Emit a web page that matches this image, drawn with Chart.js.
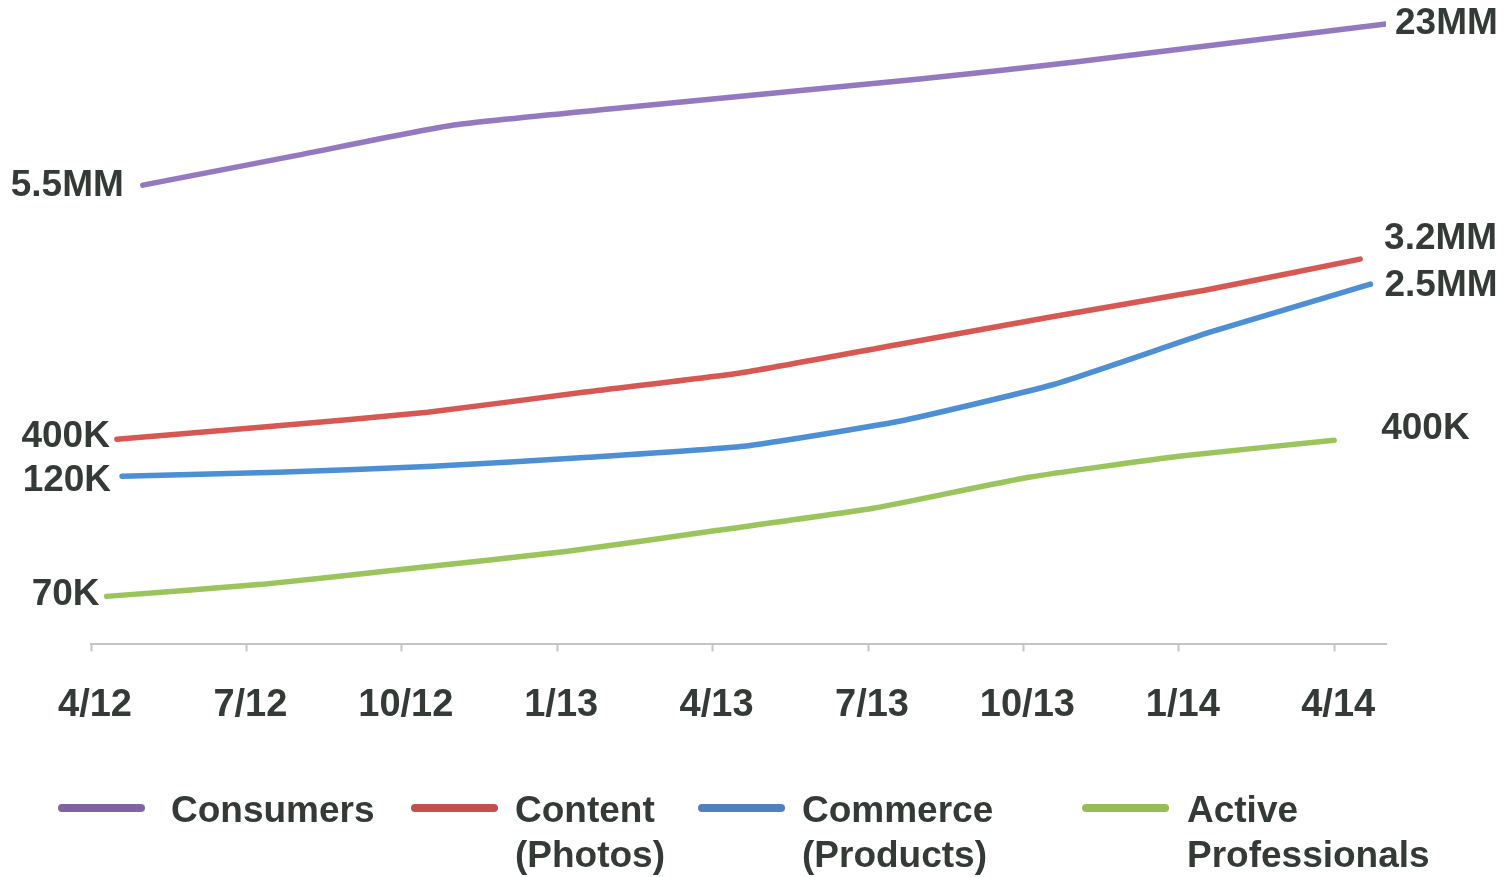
<!DOCTYPE html>
<html>
<head>
<meta charset="utf-8">
<style>
    body { margin: 0; background: #fff; }
    canvas { display: block; }
</style>
</head>
<body>
<canvas id="chart" width="1511" height="877"></canvas>

<script src="https://cdn.jsdelivr.net/npm/chart.js"></script>
<script type="text/javascript">
    // x = months after 4/12, y = relative height of the line (chart is not to scale)
    const tickMonths = [0, 3, 6, 9, 12, 15, 18, 21, 24];
    const tickLabels = ['4/12', '7/12', '10/12', '1/13', '4/13', '7/13', '10/13', '1/14', '4/14'];

    const seriesNames = ['Consumers', 'Content (Photos)', 'Commerce (Products)', 'Active Professionals'];
    const legendLines = [['Consumers'], ['Content', '(Photos)'], ['Commerce', '(Products)'], ['Active', 'Professionals']];

    const consumersMonths = [1, 4, 7, 10, 13, 16, 19, 22, 25];
    const consumersValues = [459, 489, 519, 535, 550, 565, 582, 601, 620];

    const contentMonths = [0.5, 3.5, 6.5, 9.5, 12.5, 15.5, 18.5, 21.5, 24.5];
    const contentValues = [205, 218, 232, 252, 271, 299, 327, 354, 385];

    const commerceMonths = [0.6, 3.6, 6.6, 9.6, 12.6, 15.6, 18.6, 21.6, 24.7];
    const commerceValues = [168, 172, 178, 187, 198, 223, 260, 312, 360];

    const proMonths = [0.3, 3.3, 6.2, 9.2, 12.1, 15.1, 18.1, 21.0, 24.0];
    const proValues = [48, 60, 76, 93, 114, 136, 167, 188, 204];

    const startLabels = ['5.5MM', '400K', '120K', '70K'];
    const endLabels = ['23MM', '3.2MM', '2.5MM', '400K'];

    const lineColors = ['#9579c0', '#d75853', '#4d8fd5', '#9cc45c'];
    const legendColors = ['#8064a2', '#c0504d', '#4f81bd', '#9bbb59'];
    const textColor = '#343b37';
    const fontFamily = "'Liberation Sans', Arial, sans-serif";

    // label placement relative to first / last point
    const labelStyle = {
        startGap: [19, 7, 11, 7],
        startDy: [1, -2, 5, -2],
        endGap: [9, 24, 14, 47],
        endDy: [0, -20, 2, -11]
    };
    const legendStyle = {
        lineX: [58, 411, 698, 1082],
        textX: [171, 515, 802, 1187],
        lineY: 808,
        textY: 812,
        lineGap: 45,
        lineLen: 87
    };

    function points(months, values) {
        return months.map((m, i) => ({ x: m, y: values[i] }));
    }

    const allMonths = [consumersMonths, contentMonths, commerceMonths, proMonths];
    const allValues = [consumersValues, contentValues, commerceValues, proValues];

    const endLabelPlugin = {
        id: 'endLabels',
        afterDatasetsDraw(chart) {
            const ctx = chart.ctx;
            ctx.save();
            ctx.fillStyle = textColor;
            ctx.font = 'bold 37px ' + fontFamily;
            ctx.textBaseline = 'middle';
            chart.data.datasets.forEach((ds, i) => {
                const pts = chart.getDatasetMeta(i).data;
                const first = pts[0], last = pts[pts.length - 1];
                ctx.textAlign = 'right';
                ctx.fillText(startLabels[i], first.x - labelStyle.startGap[i], first.y + labelStyle.startDy[i]);
                ctx.textAlign = 'left';
                ctx.fillText(endLabels[i], last.x + labelStyle.endGap[i], last.y + labelStyle.endDy[i]);
            });
            ctx.restore();
        }
    };

    const legendPlugin = {
        id: 'bottomLegend',
        afterDraw(chart) {
            const ctx = chart.ctx;
            ctx.save();
            legendLines.forEach((lines, i) => {
                ctx.strokeStyle = legendColors[i];
                ctx.lineWidth = 8;
                ctx.lineCap = 'round';
                ctx.beginPath();
                ctx.moveTo(legendStyle.lineX[i] + 4, legendStyle.lineY);
                ctx.lineTo(legendStyle.lineX[i] + legendStyle.lineLen - 4, legendStyle.lineY);
                ctx.stroke();
                ctx.fillStyle = textColor;
                ctx.font = 'bold 37px ' + fontFamily;
                ctx.textAlign = 'left';
                ctx.textBaseline = 'middle';
                lines.forEach((t, j) => {
                    ctx.fillText(t, legendStyle.textX[i], legendStyle.textY + j * legendStyle.lineGap);
                });
            });
            ctx.restore();
        }
    };

    chart = new Chart(document.getElementById('chart'), {
        type: 'line',
        data: {
            datasets: seriesNames.map((name, i) => ({
                label: name,
                data: points(allMonths[i], allValues[i]),
                borderColor: lineColors[i],
                borderWidth: 5.5,
                borderCapStyle: 'round',
                borderJoinStyle: 'round',
                pointRadius: 0,
                tension: 0.15,
                fill: false
            }))
        },
        options: {
            responsive: false,
            animation: false,
            layout: {
                padding: { left: 91, right: 125, top: 4, bottom: 118 }
            },
            scales: {
                x: {
                    type: 'linear',
                    min: 0,
                    max: 25,
                    afterBuildTicks: (scale) => {
                        scale.ticks = tickMonths.map(v => ({ value: v }));
                    },
                    grid: {
                        drawOnChartArea: false,
                        drawTicks: true,
                        tickLength: 7,
                        tickWidth: 2,
                        color: '#c4c4c4'
                    },
                    border: { display: true, color: '#c4c4c4', width: 2 },
                    ticks: {
                        autoSkip: false,
                        maxRotation: 0,
                        padding: 31,
                        labelOffset: 4,
                        color: textColor,
                        font: { family: fontFamily, size: 38, weight: 'bold' },
                        callback: (value) => tickLabels[tickMonths.indexOf(value)]
                    }
                },
                y: {
                    display: false,
                    min: 0,
                    max: 640
                }
            },
            plugins: {
                legend: { display: false },
                tooltip: { enabled: false }
            }
        },
        plugins: [endLabelPlugin, legendPlugin]
    });
</script>
</body>
</html>
